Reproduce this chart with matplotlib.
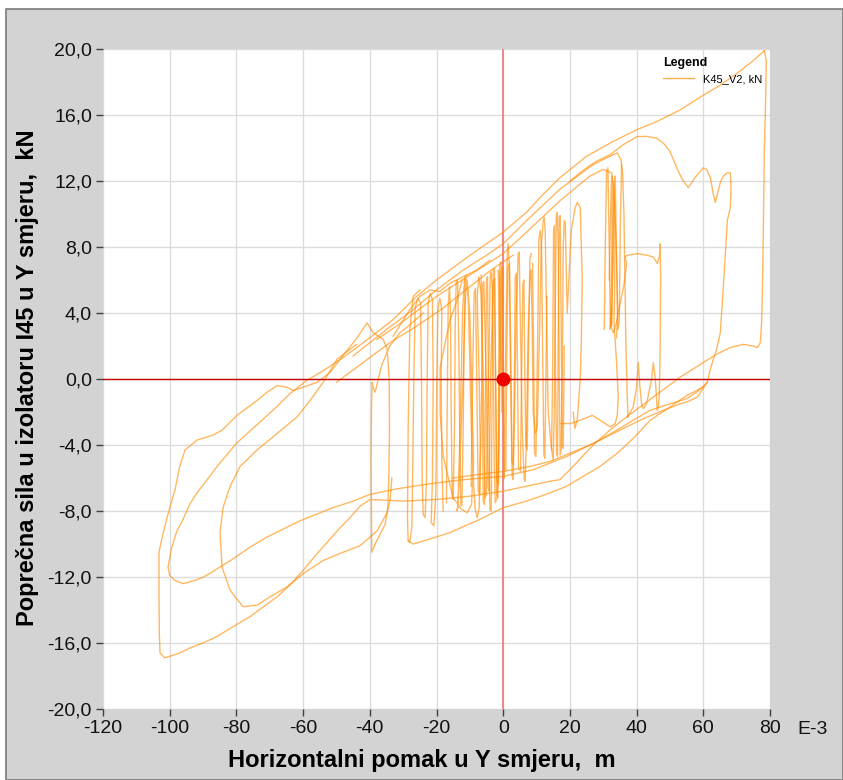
import matplotlib
matplotlib.use("Agg")
import matplotlib.pyplot as plt
from matplotlib.patches import Rectangle

# ---------------- data (x in E-3 m, y in kN) ----------------
top_x = [78.3, 75, 70, 65, 60, 53, 46, 40, 33, 25, 17, 12, 7, 0, -5, -12, -20, -26, -33, -40, -48, -54, -59, -64,
         -68, -74, -80, -85.8, -88, -91.8, -94, -96, -98, -99.5, -100.5, -100, -98.5, -96, -94, -91, -88, -85, -81,
         -76, -71, -66, -61, -56, -51, -45, -40, -33, -27, -20, -12, 0, 9, 19, 29, 39, 44, 50, 55, 58, 61.2]
top_y = [19.9, 19.3, 18.5, 17.8, 17.2, 16.3, 15.6, 15.1, 14.4, 13.5, 12.2, 11.2, 10.1, 8.9, 8.2, 7.2, 6.0, 5.0, 3.6,
         2.5, 1.3, 0.5, -0.1, -0.9, -1.7, -2.8, -3.9, -5.3, -5.9, -6.9, -7.6, -8.5, -9.3, -10.3, -11.4, -11.9, -12.2,
         -12.4, -12.3, -12.1, -11.8, -11.4, -10.9, -10.2, -9.6, -9.1, -8.6, -8.2, -7.8, -7.4, -7.0, -6.7, -6.5, -6.3,
         -6.1, -5.9, -5.5, -4.7, -3.7, -2.5, -1.9, -1.5, -1.2, -0.8, -0.2]

outer_x = [-24, -27.9, -31, -34, -36.5, -37.8, -38.4, -39.0, -39.3, -39.5, -39.6, -39.5, -39.4, -38.4, -36.9, -35.4,
           -34.6, -34.3, -34.1, -34.2, -34.8, -36, -39, -40.8, -43.8, -48.9, -51.9, -55.8, -60, -63, -64.8, -67.8,
           -70.8, -73.8, -79.8, -84.3, -87, -91.8, -95.4, -97, -98.4, -100.8, -102.5, -103.2, -103.2, -103.1, -102.9,
           -101.5, -99.9, -96.9, -93.9, -90, -85.8, -80.9, -75.9, -71.9, -67.8, -64, -60, -56.3, -52.8, -49.3, -45.9,
           -42.9, -39.9, -30, -20, -10, 0, 7, 14, 17, 20, 27, 32, 37, 45, 53, 60, 64, 68, 72, 75, 76.2, 77.1, 77.5,
           77.7, 78, 78.3, 78.7, 78.9, 78.3]
outer_y = [4.0, 3.3, 2.8, 2.0, 0.8, -0.3, -0.8, -0.5, -0.2, -2, -5, -8, -10.5, -10.0, -9.4, -8.8, -7.8, -6, -3, 0,
           1.8, 2.4, 2.8, 3.4, 2.5, 1.2, 0.4, -0.2, -0.5, -0.7, -0.5, -0.4, -0.8, -1.3, -2.2, -3.1, -3.4, -3.7, -4.3,
           -5.3, -6.7, -8.4, -9.8, -10.5, -13.4, -15.5, -16.6, -16.9, -16.8, -16.6, -16.3, -16.0, -15.6, -15.0, -14.4,
           -13.8, -13.2, -12.5, -11.6, -10.7, -9.9, -9.1, -8.4, -7.7, -7.3, -7.4, -7.3, -7.1, -6.8, -6.5, -6.2, -6.1,
           -5.5, -4.0, -3.1, -2.3, -1.1, 0.1, 1.0, 1.5, 1.9, 2.1, 2.0, 1.9, 2.2, 3.5, 5.2, 9, 13.9, 17, 19.3, 19.9]

inner_x = [-44, -49.8, -54, -57.9, -61.8, -67.8, -73.8, -78.9, -81.9, -84, -84.9, -84.3, -81.9, -78, -73.8, -69.9,
           -64.8, -60, -54, -48, -42.9, -37.8, -34.8, -33.9, -33.4]
inner_y = [2.1, 1.2, -0.2, -1.3, -2.3, -3.3, -4.3, -5.3, -6.5, -7.8, -9.3, -11.4, -12.8, -13.8, -13.7, -13.2, -12.6,
           -11.8, -11.0, -10.5, -10.1, -9.2, -8.1, -7.3, -6.0]

band2_x = [-45, -35, -27, -20, -12, -5, 0, 7, 17, 27, 32, 34.2, 35.3, 35.8, 36.2, 36.5, 36.8, 37.2, 37.4]
band2_y = [1.4, 3.0, 4.2, 5.4, 6.6, 7.5, 8.2, 9.6, 11.5, 13.0, 13.5, 13.7, 13.3, 12.5, 10, 6, 2, -1, -2.3]

band3_x = [-37.8, -30, -20, -10.8, 0, 7, 17, 26, 30, 32.5, 33.3, 33.5, 33.4, 33.2, 34.0, 34.5, 34.2, 33.6, 32.1,
           29.1, 26.7, 23.1, 20.1, 17.1]
band3_y = [2.4, 3.5, 5.0, 6.2, 7.6, 8.9, 10.8, 12.3, 12.7, 12.5, 11.5, 8, 5, 3.5, 1.0, -1.1, -2.2, -2.7, -2.9, -2.5,
           -2.2, -2.5, -2.7, -2.7]

band4_x = [-50, -40, -34, -26, -18, -10, -3, 3]
band4_y = [-0.2, 1.3, 2.2, 3.2, 4.3, 5.6, 6.7, 7.5]

band5_x = [-33, -28, -25, -22, -19, -16, -12, -8, -4]
band5_y = [2.6, 4.2, 5.0, 5.4, 5.3, 5.8, 6.2, 6.6, 7.2]

right_x = [20, 25, 28, 32.1, 36, 40.2, 43.2, 46, 48, 50, 51, 52.5, 53.7, 55.5, 57.5, 60, 61, 62.1, 63, 63.6, 64.2,
           65.1, 66, 67.2, 68.1, 68.3, 68.1, 67.2, 66.6, 66, 65.1, 64, 63, 62, 61.2, 58.2, 55, 53.1, 48, 43.2, 38,
           32, 26, 20, 14, 8, 0, -8, -15]
right_y = [12.0, 12.8, 13.2, 13.6, 14.2, 14.7, 14.7, 14.6, 14.3, 13.8, 13.3, 12.6, 12.1, 11.6, 12.2, 12.8, 12.7,
           12.2, 11.2, 10.7, 11.2, 11.9, 12.3, 12.5, 12.5, 11.5, 10.4, 9.6, 7.5, 5.6, 2.8, 1.8, 1.2, 0.5, -0.2, -1.1,
           -1.4, -1.5, -1.9, -2.3, -2.8, -3.4, -4.0, -4.5, -5.0, -5.3, -5.6, -5.8, -6.0]

plateau_x = [32.5, 32.2, 33, 33.8, 35, 36.3, 37, 36.5, 37.2, 40.2, 43, 45, 46.2, 46.8, 47.1, 47.2, 47.1, 47, 46.8,
             46.5, 46.2, 45.6, 45, 44.5, 43, 42, 41.5, 41, 40.5, 40, 39, 37.2]
plateau_y = [4.2, 3.2, 2.8, 3.3, 4.5, 5.8, 7.0, 7.4, 7.5, 7.6, 7.5, 7.4, 7.0, 7.4, 8.2, 6, 3, 1, -1, -1.7, -1.9, 0,
             1.0, 0, -1.5, -1.8, -1.5, -0.5, 1.0, -0.5, -1.7, -2.3]

group_x = [31.8, 32.4, 32.7, 32.6, 32.2, 31.9, 32.5, 33.0, 32.9, 32.6, 33.3, 34.0, 34.3, 34.0]
group_y = [6.0, 11.8, 12.3, 8.0, 3.5, 3.0, 3.3, 8.0, 11.5, 12.2, 11.0, 7.5, 4.0, 2.5]

lowbot_x = [-28.5, -27.0, -22.0, -15.9, -8.0, 0.0, 7.0, 14.1, 19.0, 24.0, 29.0, 34.2, 39.0, 44.1, 50.0, 55.0, 60.0]
lowbot_y = [-9.8, -10.0, -9.7, -9.3, -8.6, -7.8, -7.4, -6.9, -6.5, -5.9, -5.3, -4.5, -3.6, -2.5, -1.7, -1.0, -0.5]

osc_a_x = [-25.0, -27.0, -28.0, -28.5, -28.7, -28.5, -28.0, -27.4, -27.1, -26.8, -26.4, -25.6, -24.8, -24.5, -24.3,
           -24.0, -23.4, -23.0, -22.8, -22.5, -21.9, -21.2, -21.0, -21.2, -21.6, -20.8, -20.2, -19.9, -19.6, -19.0,
           -18.4, -18.6, -18.4, -18.0]
osc_a_y = [5.4, 5.0, 3.0, -3.0, -8.5, -9.8, -9.9, -9.0, -5.0, 0, 4.3, 4.9, 4.6, 0, -6.0, -8.2, -8.4, -6.0, 0, 4.6,
           5.2, 4.8, 0, -6.0, -8.7, -8.9, -7.0, 0, 4.2, 4.9, 4.2, 0, -5, -8.0]

osc_b_x = [-12.3, -13.8, -15.9, -17.4, -18.9, -18.9, -18.0, -15.0, -12.5, -10.8, -9.5, -8.9, -9.5, -10.0, -10.8,
           -11.6, -12.2, -12.6, -13.2, -13.6, -13.9, -13.5, -12.8, -12.0, -11.4, -11.0, -10.5, -9.9, -9.3, -8.4, -7.8,
           -7.2, -6.9, -7.2, -7.8, -7.3, -6.6, -6.0, -5.7, -5.4, -5.0, -4.8, -4.2, -3.9, -3.6, -3.3, -2.9, -2.7, -2.4,
           -1.8, -1.3, -1.1, -1.5, -1.2, -0.6]
osc_b_y = [6.0, 4.8, 3.6, 2.2, 0.7, -2.1, -4.7, -7.2, -7.9, -8.1, -7.6, -5, 0, 4, 6.0, 6.1, 4, 0, -5, -7.8, -8.0,
           -7.6, -4, 0, 4.5, 6.0, 5.0, 0, -5, -7.9, -8.4, -7.8, -4, 0, 5, 6.2, 5.2, 0, -5, -7.2, -7.0, -3, 2, 6.4, 6.5,
           5.5, 0, -5, -7.5, -7.2, -4, 2, 6.6, 6.2, 0]

osc_c_x = [-9.6, -9.2, -8.7, -8.3, -8.0, -7.5, -7.0, -6.4, -6.1, -5.8, -5.1, -4.5, -4.2, -3.8, -3.0, -2.6, -2.2,
           -1.9, -1.4, -0.9, -0.6, -0.3, 0.0, 0.3]
osc_c_y = [-6.5, 0, 5.2, 5.5, 1, -6.8, -7.0, 0, 5.8, 5.9, 0, -6.6, -6.8, 0, 5.9, 6.1, -1, -6.2, -6.4, 2, 6.5, 6.8,
           0, -6.0]

osc_d_x = [0.3, 0.6, 1.2, 1.5, 1.8, 2.2, 2.7, 3.0, 3.3, 3.9, 4.5, 4.8, 5.1, 5.7, 6.3, 6.6, 6.9, 7.5, 8.1, 8.4, 8.7,
           9.0, 9.6, 10.2, 10.8, 11.4, 12.0, 12.3, 12.6, 12.9]
osc_d_y = [-6.0, 0, 7.5, 8.2, 7.0, 0, -5.9, -6.1, -3, 4, 7.6, 7.7, 4, -3, -6.1, -6.2, -4, 3, 6.4, 6.6, 3, -2, -3.3,
           -3.0, 2, 8.0, 9.6, 9.8, 9.0, 5]

osc_e_x = [12.9, 13.5, 14.4, 15.0, 15.3, 15.6, 15.9, 16.2, 16.5, 16.8, 17.1, 17.4, 17.7, 18.0, 18.3, 18.6, 19.2,
           20.4, 21.6, 22.2, 23.1, 23.7, 23.4, 23.1, 22.2, 21.5, 21.0]
osc_e_y = [5, -2, -4.1, -4.9, -2, 4, 9.8, 10.1, 8, 0, -4.6, -4.3, 0, 8, 9.6, 9.5, 4, 9.0, 10.4, 10.7, 10.4, 6.0, 2.0,
           0, -2.5, -3.0, -2.0]

osc_f_x = [-17.0, -16.8, -16.5, -16.1, -15.8, -15.6, -15.3, -15.0, -14.6, -14.4, -14.1, -13.7, -13.3, -13.0, -12.7,
           -12.4, -12.0, -11.7, -11.4, -11.0]
osc_f_y = [-7.5, -2, 4.5, 5.6, 4.0, -2, -7.0, -7.3, -3, 3, 5.9, 6.0, 2, -4, -7.6, -7.7, -3, 3, 6.2, 6.3]

osc_g_x = [-6.6, -6.3, -6.0, -5.6, -5.3, -5.0, -4.7, -4.4, -4.0, -3.6, -3.3, -3.0, -2.6, -2.3, -2.0, -1.6, -1.3,
           -1.0, -0.7, -0.4]
osc_g_y = [6.3, 0, -7.4, -7.6, 0, 6.0, 6.2, -1, -7.9, -8.0, 0, 6.6, 6.7, 0, -7.0, -7.2, 1, 7.0, 7.1, -2]

osc_h_x = [0.8, 1.0, 1.4, 1.9, 2.4, 2.6, 3.0, 3.4, 3.6, 4.0, 4.3, 4.6, 5.2, 5.5, 5.9, 6.2, 6.5, 6.8, 7.2, 7.6, 8.0,
           8.4]
osc_h_y = [-5.5, 0, 6.8, 7.0, 0, -5.0, -5.2, 1, 6.2, 6.4, 0, -5.4, -5.6, 0, 5.8, 6.0, 0, -4.0, -4.3, 2, 7.3, 7.6]

osc_i_x = [8.8, 9.1, 9.4, 9.8, 10.3, 10.7, 11.1, 11.5, 11.8, 12.2, 12.5, 12.8, 13.1]
osc_i_y = [7.0, 2, -4.5, -4.7, 2, 8.5, 9.0, 8.0, 2, -4.6, -4.8, 0, 5]

osc_j_x = [14.5, 14.8, 15.1, 15.4, 15.7, 16.0, 16.3, 16.5, 16.8, 17.1, 17.4, 17.7, 18.0, 18.3]
osc_j_y = [-4.3, 0, 9.0, 9.3, 0, -4.5, -4.7, 3, 9.8, 9.9, 3, -4.0, -4.2, 2]

osc_k_x = [30.3, 30.6, 31.0, 31.4, 31.8, 32.1, 32.5, 32.9, 33.3, 33.6, 34.0, 34.4, 34.8, 35.1, 35.5]
osc_k_y = [3.0, 8, 12.6, 12.8, 8, 3.4, 3.2, 8, 12.0, 12.3, 7, 3.0, 3.5, 9, 13.0]

strokes = [(top_x, top_y), (outer_x, outer_y), (inner_x, inner_y), (band2_x, band2_y), (band3_x, band3_y),
           (band4_x, band4_y), (band5_x, band5_y), (right_x, right_y), (plateau_x, plateau_y),
           (group_x, group_y), (lowbot_x, lowbot_y), (osc_a_x, osc_a_y), (osc_b_x, osc_b_y),
           (osc_c_x, osc_c_y), (osc_d_x, osc_d_y), (osc_e_x, osc_e_y), (osc_f_x, osc_f_y),
           (osc_g_x, osc_g_y), (osc_h_x, osc_h_y), (osc_i_x, osc_i_y), (osc_j_x, osc_j_y),
           (osc_k_x, osc_k_y)]

x_ticks = [-120, -100, -80, -60, -40, -20, 0, 20, 40, 60, 80]
y_ticks = [-20, -16, -12, -8, -4, 0, 4, 8, 12, 16, 20]
series_label = "K45_V2, kN"

# ---------------- drawing ----------------
plt.rcParams['font.family'] = ['Liberation Sans', 'DejaVu Sans']
W, H = 843, 780
fig = plt.figure(figsize=(W / 100, H / 100), dpi=100)
fig.patch.set_facecolor('white')
bg = Rectangle((6 / W, 0), 1 - 6 / W, 1 - 9 / H, transform=fig.transFigure,
               facecolor='#d3d3d3', edgecolor='#7a7a7a', linewidth=1.2, zorder=-10)
fig.add_artist(bg)

ax = fig.add_axes([103 / W, 71 / H, 667 / W, 660 / H])
ax.set_zorder(5)
ax.set_facecolor('white')
ax.set_xlim(-120, 80)
ax.set_ylim(-20, 20)
for s in ax.spines.values():
    s.set_visible(False)

ax.set_xticks(x_ticks)
ax.set_yticks(y_ticks)
ax.set_xticklabels([str(v) for v in x_ticks])
ax.set_yticklabels([f"{v:.1f}".replace('.', ',') for v in y_ticks])
ax.tick_params(direction='out', length=5, width=1, color='#404040', labelsize=14, labelcolor='#111111', pad=3)
ax.grid(True, color='#dcdcdc', linewidth=1)
ax.set_axisbelow(True)

ax.axvline(0, color='#f08080', lw=1.3, zorder=1)
ax.axhline(0, color='#c80000', lw=1.0, zorder=3)

first = True
for xs, ys in strokes:
    ax.plot(xs, ys, color='#ff8c00', lw=1.0, alpha=0.62, zorder=2,
            label=series_label if first else None, solid_joinstyle='round')
    first = False

ax.plot([0], [0], 'o', color='#ee0000', markersize=9, zorder=4)

leg = ax.legend(loc='upper right', bbox_to_anchor=(1.0, 1.0), frameon=False, fontsize=8,
                title='Legend', handlelength=2.8, borderaxespad=0.3)
leg.get_title().set_fontweight('bold')
leg.get_title().set_fontsize(9)
leg._legend_box.align = 'left'
for ln in leg.get_lines():
    ln.set_alpha(0.7)

fig.text(797 / W, 1 - 729 / H, 'E-3', fontsize=14, ha='left', va='center', color='#111111', zorder=6)
fig.text(422 / W, 1 - 760 / H, 'Horizontalni pomak u Y smjeru,  m', fontsize=17, fontweight='bold',
         ha='center', va='center', zorder=6)
fig.text(28 / W, 1 - 378 / H, 'Poprečna sila u izolatoru I45 u Y smjeru,  kN', fontsize=17, fontweight='bold',
         ha='center', va='center', rotation=90, zorder=6)

fig.savefig('out.png', dpi=100, facecolor=fig.get_facecolor())
